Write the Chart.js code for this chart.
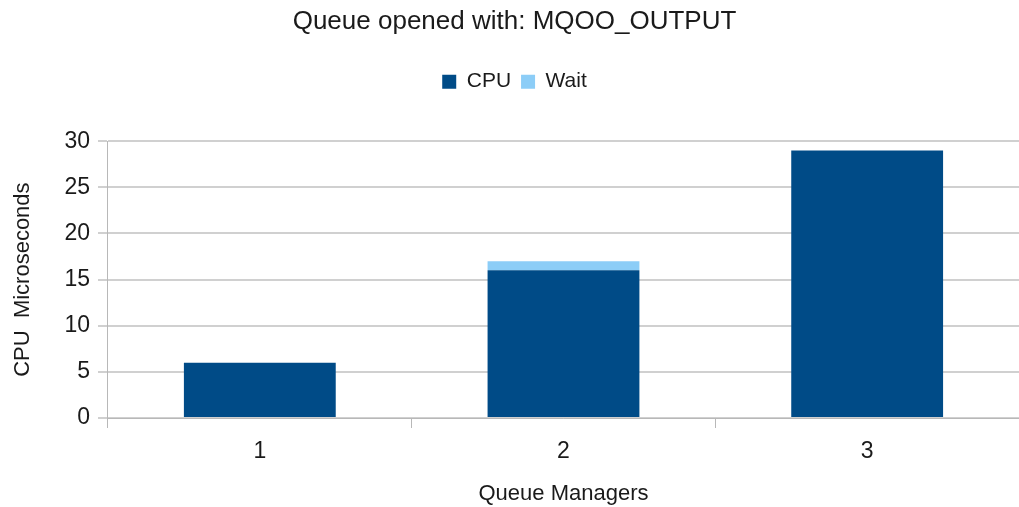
<!DOCTYPE html>
<html>
<head>
<meta charset="utf-8">
<script src="https://cdn.jsdelivr.net/npm/chart.js@4/dist/chart.umd.min.js"></script>
<style>
  html, body { margin: 0; padding: 0; background: #fff; overflow: hidden; }
  #wrap { width: 1019px; height: 507px; }
</style>
</head>
<body>
<div id="wrap"><canvas id="queueChart"></canvas></div>
<script>
// ----------------------------
// data
// ----------------------------

const managers = ["1", "2", "3"];
const cpuValues = [6, 16, 29];
const waitValues = [0, 1, 0];
const yTicks = [0, 5, 10, 15, 20, 25, 30];

const textColor = "#1a1a1a";
const gridColor = "#d0d0d0";
const axisColor = "#b8b8b8";
const fontFamily = "'Liberation Sans', Arial, sans-serif";

// leave a gap under the legend like the original
const legendGap = {
  id: "legendGap",
  beforeInit(chart) {
    const fit = chart.legend.fit;
    chart.legend.fit = function () {
      fit.bind(chart.legend)();
      this.height += 39;
    };
  }
};

// ----------------------------
// chart
// ----------------------------

new Chart(document.getElementById("queueChart"), {
  type: "bar",
  data: {
    labels: managers,
    datasets: [
      {
        label: "CPU",
        data: cpuValues,
        backgroundColor: "#004b87",
        borderWidth: 0,
        categoryPercentage: 1,
        barPercentage: 0.5
      },
      {
        label: "Wait",
        data: waitValues,
        backgroundColor: "#8ccdf7",
        borderWidth: 0,
        categoryPercentage: 1,
        barPercentage: 0.5
      }
    ]
  },
  options: {
    responsive: true,
    maintainAspectRatio: false,
    animation: false,
    layout: { padding: { left: 10, right: 0, top: 6, bottom: 0 } },
    plugins: {
      title: {
        display: true,
        text: "Queue opened with: MQOO_OUTPUT",
        color: textColor,
        font: { family: fontFamily, size: 26, weight: "normal" },
        padding: { top: 0, bottom: 24 }
      },
      legend: {
        display: true,
        labels: {
          color: textColor,
          font: { family: fontFamily, size: 21 },
          boxWidth: 14,
          boxHeight: 14,
          padding: 10
        },
        onClick: null
      },
      tooltip: { enabled: false }
    },
    scales: {
      x: {
        stacked: true,
        grid: {
          drawOnChartArea: false,
          drawTicks: true,
          offset: true,
          tickLength: 10,
          color: axisColor
        },
        border: { display: true, color: axisColor, width: 1 },
        ticks: {
          color: textColor,
          font: { family: fontFamily, size: 23 },
          padding: 10
        },
        title: {
          display: true,
          text: "Queue Managers",
          color: textColor,
          font: { family: fontFamily, size: 22 },
          padding: { top: 5, bottom: 0 }
        }
      },
      y: {
        stacked: true,
        min: 0,
        max: 30,
        afterBuildTicks: (axis) => {
          axis.ticks = yTicks.map(v => ({ value: v }));
        },
        grid: {
          color: gridColor,
          lineWidth: 2,
          tickLength: 10,
          drawTicks: true
        },
        border: { display: true, color: axisColor, width: 1 },
        ticks: {
          color: textColor,
          font: { family: fontFamily, size: 23 },
          padding: 8
        },
        title: {
          display: true,
          text: "CPU  Microseconds",
          color: textColor,
          font: { family: fontFamily, size: 22 },
          padding: { top: 0, bottom: 20 }
        }
      }
    }
  },
  plugins: [legendGap]
});
</script>
</body>
</html>
